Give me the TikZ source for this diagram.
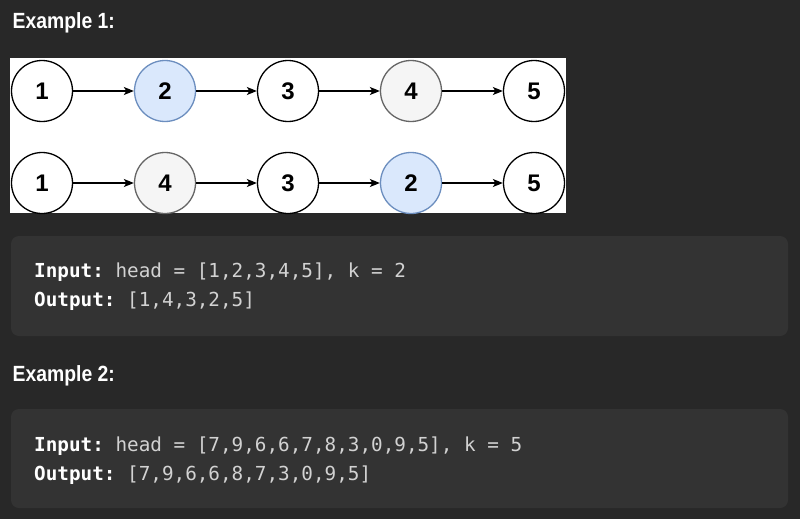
\documentclass[tikz,border=0pt]{standalone}
\usepackage{fontspec}
\setmainfont{Liberation Sans}
\setmonofont{DejaVu Sans Mono}
\newfontfamily\headfont[FakeStretch=0.88]{Liberation Sans}
\usetikzlibrary{arrows.meta}
\definecolor{pagebg}{HTML}{282828}
\definecolor{codebg}{HTML}{333333}
\definecolor{codefg}{HTML}{D2D2D2}
\definecolor{bluefill}{HTML}{DAE8FC}
\definecolor{bluedraw}{HTML}{6C8EBF}
\definecolor{greyfill}{HTML}{F5F5F5}
\definecolor{greydraw}{HTML}{666666}
\tikzset{
  listnode/.style={circle, draw=black, fill=white, line width=1.3pt, minimum size=61pt, inner sep=0pt, font=\fontsize{24}{24}\selectfont\bfseries},
  bluenode/.style={listnode, draw=bluedraw, fill=bluefill},
  greynode/.style={listnode, draw=greydraw, fill=greyfill},
  link/.style={line width=1.3pt, -{Stealth[length=10pt,width=8pt,inset=2.5pt]}},
  heading/.style={anchor=base west, inner sep=0pt, text=white, font=\headfont\fontsize{22}{22}\selectfont\bfseries},
  codeline/.style={anchor=base west, inner sep=0pt, text=codefg, font=\fontsize{19.3}{19.3}\selectfont\ttfamily}
}
\newcommand{\codelabel}[1]{\textcolor{white}{\bfseries #1}}
\begin{document}
\begin{tikzpicture}[x=1pt,y=-1pt]
\fill[pagebg] (0,0) rectangle (800,519);
\useasboundingbox (0,0) rectangle (800,519);
% Example 1
\node[heading] (title1) at (12.5,29) {Example 1:};
\fill[white] (10,58) rectangle (566,213);
\node[listnode] (a1) at (42,91) {1};
\node[bluenode] (a2) at (165,91) {2};
\node[listnode] (a3) at (288,91) {3};
\node[greynode] (a4) at (411,91) {4};
\node[listnode] (a5) at (534,91) {5};
\node[listnode] (b1) at (42,183) {1};
\node[greynode] (b2) at (165,183) {4};
\node[listnode] (b3) at (288,183) {3};
\node[bluenode] (b4) at (411,183) {2};
\node[listnode] (b5) at (534,183) {5};
\draw[link] (a1) -- (a2);
\draw[link] (a2) -- (a3);
\draw[link] (a3) -- (a4);
\draw[link] (a4) -- (a5);
\draw[link] (b1) -- (b2);
\draw[link] (b2) -- (b3);
\draw[link] (b3) -- (b4);
\draw[link] (b4) -- (b5);
\fill[codebg, rounded corners=8pt] (11,236) rectangle (788,336);
\node[codeline] (in1) at (34,277.5) {\codelabel{Input:} head = [1,2,3,4,5], k = 2};
\node[codeline] (out1) at (34,306.5) {\codelabel{Output:} [1,4,3,2,5]};
% Example 2
\node[heading] (title2) at (12.5,381) {Example 2:};
\fill[codebg, rounded corners=8pt] (11,409) rectangle (788,508);
\node[codeline] (in2) at (34,451.5) {\codelabel{Input:} head = [7,9,6,6,7,8,3,0,9,5], k = 5};
\node[codeline] (out2) at (34,480.5) {\codelabel{Output:} [7,9,6,6,8,7,3,0,9,5]};
\end{tikzpicture}
\end{document}
